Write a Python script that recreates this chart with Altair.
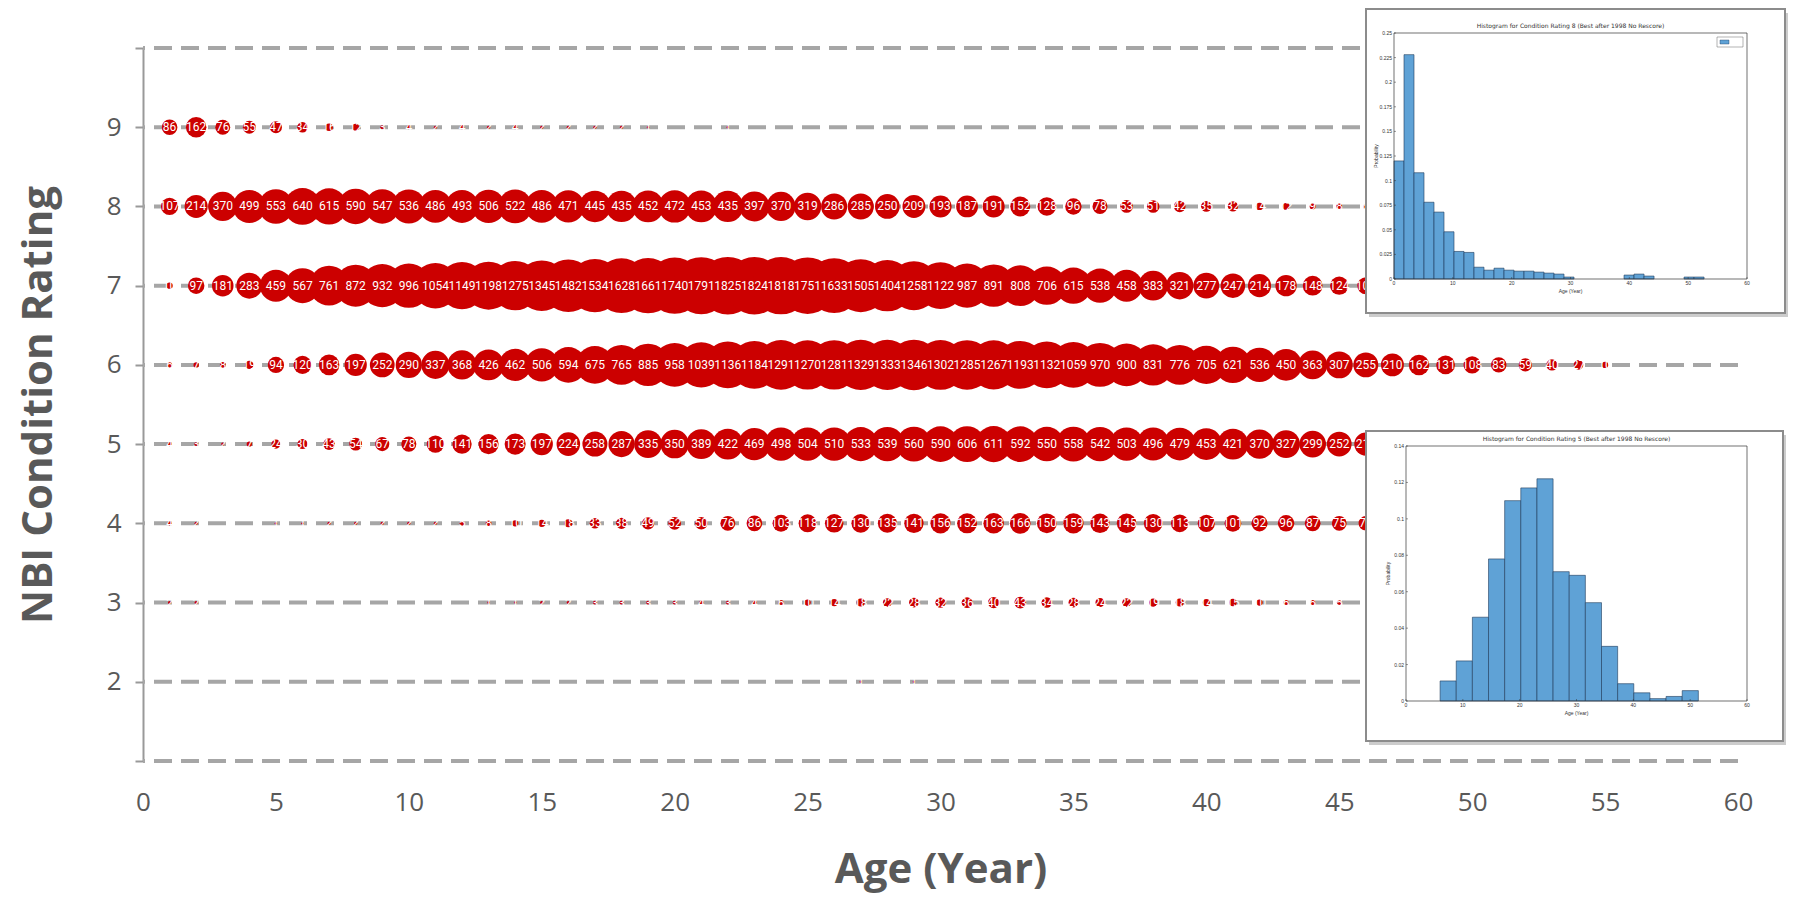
import altair as alt
import pandas as pd

# ---------------- data (counts of bridges per age, per condition rating) ----------------
rating_9 = [86, 162, 76, 55, 47, 34, 16, 12, 3, 4, 2, 4, 2, 4, 2, 2, 2, 2, 1, 0, 0, 1]
rating_8 = [107, 214, 370, 499, 553, 640, 615, 590, 547, 536, 486, 493, 506, 522, 486, 471,
            445, 435, 452, 472, 453, 435, 397, 370, 319, 286, 285, 250, 209, 193, 187, 191,
            152, 128, 96, 78, 53, 51, 42, 35, 32, 14, 12, 9, 8, 6]
rating_7 = [10, 97, 181, 283, 459, 567, 761, 872, 932, 996, 1054, 1149, 1198, 1275, 1345, 1482,
            1534, 1628, 1661, 1740, 1791, 1825, 1824, 1818, 1751, 1633, 1505, 1404, 1258, 1122,
            987, 891, 808, 706, 615, 538, 458, 383, 321, 277, 247, 214, 178, 148, 124, 105]
rating_6 = [6, 7, 8, 19, 94, 120, 163, 197, 252, 290, 337, 368, 426, 462, 506, 594, 675, 765,
            885, 958, 1039, 1136, 1184, 1291, 1270, 1281, 1329, 1333, 1346, 1302, 1285, 1267,
            1193, 1132, 1059, 970, 900, 831, 776, 705, 621, 536, 450, 363, 307, 255, 210, 162,
            131, 108, 83, 59, 40, 27, 10]
rating_5 = [4, 3, 2, 7, 24, 30, 43, 54, 67, 78, 110, 141, 156, 173, 197, 224, 258, 287, 335,
            350, 389, 422, 469, 498, 504, 510, 533, 539, 560, 590, 606, 611, 592, 550, 558, 542,
            503, 496, 479, 453, 421, 370, 327, 299, 252, 215]
rating_4 = [4, 2, 0, 0, 1, 1, 2, 2, 2, 2, 2, 5, 8, 10, 14, 18, 33, 38, 49, 52, 50, 76, 86, 103,
            118, 127, 130, 135, 141, 156, 152, 163, 166, 150, 159, 143, 145, 130, 113, 107, 101,
            92, 96, 87, 75, 72]
rating_3 = [2, 2, 0, 0, 0, 0, 0, 0, 0, 0, 0, 0, 1, 1, 2, 2, 3, 3, 3, 3, 4, 3, 4, 6, 10, 14, 18,
            22, 28, 32, 36, 40, 43, 34, 28, 24, 22, 19, 18, 14, 15, 10, 6, 6, 5]
rating_2 = [0] * 26 + [1, 0, 1]

# inset histograms (bin edges in years, probability)
top_hist_edges = [0, 1.7, 3.4, 5.1, 6.8, 8.5, 10.2, 11.9, 13.6, 15.3, 17.0, 18.7, 20.4, 22.1,
                  23.8, 25.5, 27.2, 28.9, 30.6, 32.3, 34.0, 35.7, 37.4, 39.1, 40.8, 42.5, 44.2,
                  45.9, 47.6, 49.3, 51.0, 52.7]
top_hist_vals = [0.120, 0.228, 0.108, 0.078, 0.068, 0.048, 0.028, 0.027, 0.012, 0.009, 0.011,
                 0.009, 0.008, 0.008, 0.007, 0.006, 0.005, 0.002, 0.0, 0.0, 0.0, 0.0, 0.0,
                 0.004, 0.005, 0.003, 0.0, 0.0, 0.0, 0.002, 0.002]
top_xticks = [0, 10, 20, 30, 40, 50, 60]
top_yticks = [0, 0.025, 0.05, 0.075, 0.1, 0.125, 0.15, 0.175, 0.2, 0.225, 0.25]
bot_hist_edges = [6, 8.84, 11.68, 14.52, 17.36, 20.2, 23.04, 25.88, 28.72, 31.56, 34.4, 37.24,
                  40.08, 42.92, 45.76, 48.6, 51.44]
bot_hist_vals = [0.011, 0.022, 0.046, 0.078, 0.110, 0.117, 0.122, 0.071, 0.069, 0.054, 0.030,
                 0.0095, 0.0045, 0.0013, 0.0025, 0.0057]
bot_xticks = [0, 10, 20, 30, 40, 50, 60]
bot_yticks = [0, 0.02, 0.04, 0.06, 0.08, 0.1, 0.12, 0.14]

series = {9: rating_9, 8: rating_8, 7: rating_7, 6: rating_6, 5: rating_5, 4: rating_4,
          3: rating_3, 2: rating_2}
rows = []
for rating, counts in series.items():
    for i, c in enumerate(counts):
        if c > 0:
            rows.append({"age": i + 1, "rating": rating, "count": c})
df = pd.DataFrame(rows)
grid_df = pd.DataFrame({"rating": list(range(1, 11))})

W, H = 1595, 713
RED = "#CC0000"
GRAY_TXT = "#595959"

xscale = alt.Scale(domain=[0, 60], nice=False, zero=False)
yscale = alt.Scale(domain=[1, 10], nice=False, zero=False)

xaxis = alt.Axis(values=list(range(0, 61, 5)), grid=False, domain=False, ticks=False,
                 tickSize=0, labelPadding=28, labelFontSize=26, labelColor=GRAY_TXT,
                 labelFont="Open Sans", labelFlush=False, title="Age (Year)",
                 titleFontSize=42, titleColor=GRAY_TXT, titleFont="Open Sans",
                 titleFontWeight="bold", titlePadding=34)
yaxis = alt.Axis(values=list(range(1, 11)), grid=False, domain=True, domainColor="#999999",
                 domainWidth=2, ticks=True, tickSize=8, tickColor="#999999", tickWidth=2,
                 labelPadding=14, labelFontSize=26, labelColor=GRAY_TXT, labelFont="Open Sans",
                 labelFlush=False,
                 labelExpr="datum.value == 1 || datum.value == 10 ? '' : datum.label",
                 title="NBI Condition Rating", titleFontSize=42, titleColor=GRAY_TXT,
                 titleFont="Open Sans", titleFontWeight="bold", titlePadding=46)


def X(field):
    return alt.X(field, scale=xscale, axis=xaxis)


def Y(field):
    return alt.Y(field, scale=yscale, axis=yaxis)


gridlines = alt.Chart(grid_df).mark_rule(color="#A6A6A6", strokeWidth=4,
                                         strokeDash=[18, 9]).encode(y=Y("rating:Q"))
base = alt.Chart(df)
bubbles = base.mark_circle(color=RED, opacity=1).encode(
    x=X("age:Q"), y=Y("rating:Q"),
    size=alt.Size("count:Q", scale=alt.Scale(type="pow", exponent=0.85, domain=[0, 1825],
                                              range=[0, 3300]), legend=None),
)
labels = base.mark_text(color="white", fontSize=12, font="Roboto").encode(
    x=X("age:Q"), y=Y("rating:Q"), text="count:Q",
)

one = pd.DataFrame({"k": [0]})
INK = "#333333"
HIST = "#5FA2D6"


def inset(edges, vals, xticks, yticks, frame, axes, title, xmax, ymax, legend):
    fx0, fy0, fx1, fy1 = frame
    ax0, ay0, ax1, ay1 = axes
    # inset axes rectangle expressed in the main chart's data units
    X0, X1 = ax0 / W * 60, ax1 / W * 60
    Yb, Yt = 10 - ay1 / H * 9, 10 - ay0 / H * 9
    xs = f"{X0} + datum.v / {xmax} * {X1 - X0}"
    shadow = alt.Chart(one).mark_rect(fill="#000000", opacity=0.2).encode(
        x=alt.value(fx0 + 3), x2=alt.value(fx1 + 3), y=alt.value(fy0 + 4), y2=alt.value(fy1 + 4))
    box = alt.Chart(one).mark_rect(fill="white", stroke="#8C8C8C", strokeWidth=2).encode(
        x=alt.value(fx0), x2=alt.value(fx1), y=alt.value(fy0), y2=alt.value(fy1))
    hd = pd.DataFrame({"b0": edges[:-1], "b1": edges[1:], "p": vals})
    hd = hd[hd["p"] > 0]
    bars = alt.Chart(hd).mark_rect(fill=HIST, stroke="#1F3A5A", strokeWidth=0.6).transform_calculate(
        xa=f"{X0} + datum.b0 / {xmax} * {X1 - X0}",
        xb=f"{X0} + datum.b1 / {xmax} * {X1 - X0}",
        ya=f"{Yb}",
        yb=f"{Yb} + datum.p / {ymax} * {Yt - Yb}",
    ).encode(x=X("xa:Q"), x2="xb:Q", y=Y("yb:Q"), y2="ya:Q")
    axbox = alt.Chart(one).mark_rect(fill="transparent", stroke=INK, strokeWidth=0.7).encode(
        x=alt.value(ax0), x2=alt.value(ax1), y=alt.value(ay0), y2=alt.value(ay1))
    xt = pd.DataFrame({"v": xticks})
    xlab = alt.Chart(xt).mark_text(fontSize=5, color=INK, baseline="top").transform_calculate(
        xp=xs).encode(x=X("xp:Q"), y=alt.value(ay1 + 2), text=alt.Text("v:Q"))
    xtk = alt.Chart(xt).mark_rule(color=INK, strokeWidth=0.5).transform_calculate(
        xp=xs).encode(x=X("xp:Q"), y=alt.value(ay1 - 2), y2=alt.value(ay1))
    yt = pd.DataFrame({"v": yticks})
    ys = f"{Yb} + datum.v / {ymax} * {Yt - Yb}"
    ylab = alt.Chart(yt).mark_text(fontSize=5, color=INK, align="right").transform_calculate(
        yp=ys).encode(y=Y("yp:Q"), x=alt.value(ax0 - 2), text=alt.Text("v:Q"))
    ytk = alt.Chart(yt).mark_rule(color=INK, strokeWidth=0.5).transform_calculate(
        yp=ys).encode(y=Y("yp:Q"), x=alt.value(ax0), x2=alt.value(ax0 + 2))
    ttl = alt.Chart(one).mark_text(fontSize=6, color=INK, font="DejaVu Sans").encode(
        x=alt.value((ax0 + ax1) / 2), y=alt.value(ay0 - 7), text=alt.value(title))
    xttl = alt.Chart(one).mark_text(fontSize=5, color=INK).encode(
        x=alt.value((ax0 + ax1) / 2), y=alt.value(ay1 + 12), text=alt.value("Age (Year)"))
    yttl = alt.Chart(one).mark_text(fontSize=5, color=INK, angle=270).encode(
        x=alt.value(ax0 - 18), y=alt.value((ay0 + ay1) / 2), text=alt.value("Probability"))
    layers = [shadow, box, bars, axbox, xtk, ytk, xlab, ylab, ttl, xttl, yttl]
    if legend:
        lx0, ly0 = ax1 - 30, ay0 + 4
        leg = alt.Chart(one).mark_rect(fill="white", stroke="#666666", strokeWidth=0.5).encode(
            x=alt.value(lx0), x2=alt.value(ax1 - 4), y=alt.value(ly0), y2=alt.value(ly0 + 10))
        sw = alt.Chart(one).mark_rect(fill=HIST, stroke="#1F3A5A", strokeWidth=0.4).encode(
            x=alt.value(lx0 + 3), x2=alt.value(lx0 + 12), y=alt.value(ly0 + 3),
            y2=alt.value(ly0 + 7))
        layers += [leg, sw]
    return layers


top_layers = inset(top_hist_edges, top_hist_vals, top_xticks, top_yticks,
                   frame=(1223, -39, 1642, 265), axes=(1251, -15, 1604, 231),
                   title="Histogram for Condition Rating 8 (Best after 1998 No Rescore)",
                   xmax=60, ymax=0.25, legend=True)
bot_layers = inset(bot_hist_edges, bot_hist_vals, bot_xticks, bot_yticks,
                   frame=(1223, 383, 1640, 693), axes=(1263, 398, 1604, 653),
                   title="Histogram for Condition Rating 5 (Best after 1998 No Rescore)",
                   xmax=60, ymax=0.14, legend=False)

chart = alt.layer(gridlines, bubbles, labels, *top_layers, *bot_layers).properties(
    width=W, height=H,
    padding={"left": 9, "top": 0, "right": 0, "bottom": 4},
).configure_view(stroke=None)

chart.save("out.html", embed_options={"renderer": "svg", "actions": False})
